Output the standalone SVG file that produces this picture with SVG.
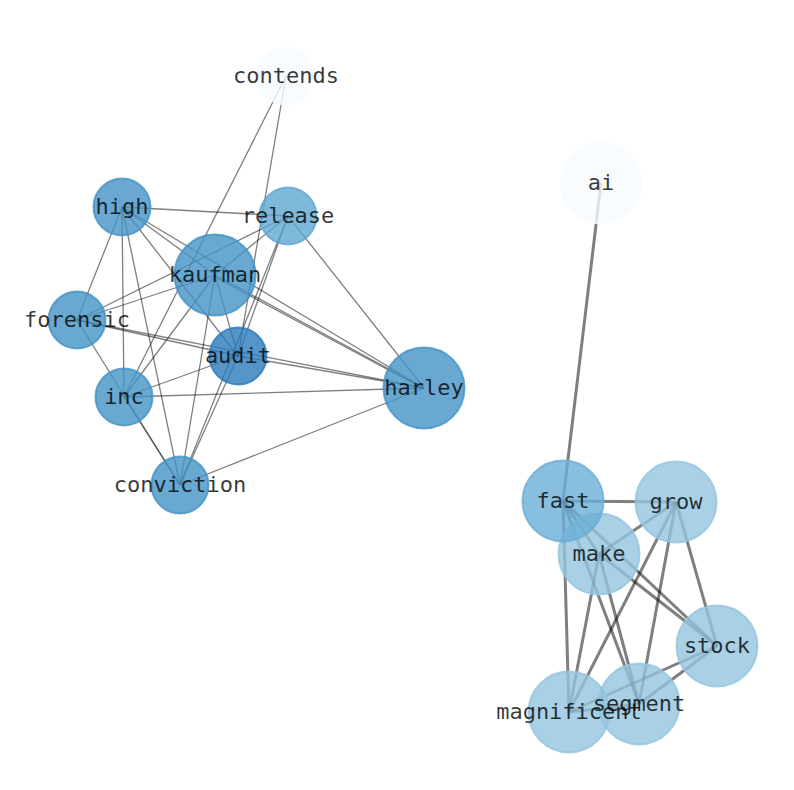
<svg xmlns="http://www.w3.org/2000/svg" width="794" height="790" viewBox="0 0 794 790">
<style>
.bg{fill:#ffffff}
.e1{stroke:#000;stroke-opacity:0.5;stroke-width:1.3;fill:none}
.e2{stroke:#000;stroke-opacity:0.5;stroke-width:3;fill:none}
.n circle{fill-opacity:0.8;stroke-opacity:0.8;stroke-width:2}
.lbl{font-family:"DejaVu Sans Mono","Liberation Mono",monospace;font-size:22px;fill:#000;fill-opacity:0.78;text-anchor:middle}
</style>
<rect class="bg" x="0" y="0" width="794" height="790"/>
<g id="edges">
<g class="e1">
<line x1="286" y1="76" x2="124" y2="397"/>
<line x1="286" y1="76" x2="238" y2="356"/>
<line x1="122" y1="207" x2="288" y2="216"/>
<line x1="122" y1="207" x2="77" y2="320"/>
<line x1="122" y1="207" x2="124" y2="397"/>
<line x1="122" y1="207" x2="180" y2="485"/>
<line x1="122" y1="207" x2="238" y2="356"/>
<line x1="122" y1="207" x2="424" y2="388"/>
<line x1="122" y1="207" x2="215" y2="275"/>
<line x1="288" y1="216" x2="77" y2="320"/>
<line x1="288" y1="216" x2="215" y2="275"/>
<line x1="288" y1="216" x2="238" y2="356"/>
<line x1="288" y1="216" x2="180" y2="485"/>
<line x1="288" y1="216" x2="424" y2="388"/>
<line x1="215" y1="275" x2="77" y2="320"/>
<line x1="215" y1="275" x2="124" y2="397"/>
<line x1="215" y1="275" x2="238" y2="356"/>
<line x1="215" y1="275" x2="180" y2="485"/>
<line x1="215" y1="275" x2="424" y2="388"/>
<line x1="215" y1="277" x2="424" y2="389"/>
<line x1="77" y1="320" x2="238" y2="356"/>
<line x1="77" y1="320" x2="424" y2="388"/>
<line x1="77" y1="320" x2="180" y2="485"/>
<line x1="238" y1="356" x2="124" y2="397"/>
<line x1="238" y1="356" x2="424" y2="388"/>
<line x1="238" y1="356" x2="180" y2="485"/>
<line x1="124" y1="397" x2="424" y2="388"/>
<line x1="124" y1="397" x2="180" y2="485"/>
<line x1="180" y1="485" x2="424" y2="388"/>
</g>
<g class="e2">
<line x1="601" y1="183" x2="563" y2="501"/>
<line x1="563" y1="501" x2="676" y2="502"/>
<line x1="563" y1="501" x2="599" y2="554"/>
<line x1="563" y1="501" x2="717" y2="646"/>
<line x1="563" y1="501" x2="639" y2="704"/>
<line x1="563" y1="501" x2="569" y2="712"/>
<line x1="599" y1="554" x2="676" y2="502"/>
<line x1="599" y1="554" x2="717" y2="646"/>
<line x1="599" y1="554" x2="639" y2="704"/>
<line x1="599" y1="554" x2="569" y2="712"/>
<line x1="676" y1="502" x2="569" y2="712"/>
<line x1="676" y1="502" x2="639" y2="704"/>
<line x1="676" y1="502" x2="717" y2="646"/>
<line x1="717" y1="646" x2="569" y2="712"/>
<line x1="717" y1="646" x2="639" y2="704"/>
<line x1="639" y1="704" x2="569" y2="712"/>
</g>
</g>
<g id="nodes" class="n">
<g id="node-contends"><circle cx="286" cy="76" r="28.5" fill="#f7fbff" stroke="#f7fbff"/></g>
<g id="node-high"><circle cx="122" cy="207" r="28.5" fill="#4292c6" stroke="#4292c6"/></g>
<g id="node-release"><circle cx="288" cy="216" r="28.5" fill="#5ea6d2" stroke="#5ea6d2"/></g>
<g id="node-kaufman"><circle cx="215" cy="275" r="40.5" fill="#4292c6" stroke="#4292c6"/></g>
<g id="node-forensic"><circle cx="77" cy="320" r="28.5" fill="#4292c6" stroke="#4292c6"/></g>
<g id="node-audit"><circle cx="238" cy="356" r="28.5" fill="#2b7bba" stroke="#2b7bba"/></g>
<g id="node-inc"><circle cx="124" cy="397" r="28.5" fill="#4292c6" stroke="#4292c6"/></g>
<g id="node-harley"><circle cx="424" cy="388" r="40.5" fill="#4292c6" stroke="#4292c6"/></g>
<g id="node-conviction"><circle cx="180" cy="485" r="28.5" fill="#4292c6" stroke="#4292c6"/></g>
<g id="node-ai"><circle cx="601" cy="183" r="40.5" fill="#f7fbff" stroke="#f7fbff"/></g>
<g id="node-make"><circle cx="599" cy="554" r="40.5" fill="#94c4df" stroke="#94c4df"/></g>
<g id="node-fast"><circle cx="563" cy="501" r="40.5" fill="#6aaed6" stroke="#6aaed6"/></g>
<g id="node-grow"><circle cx="676" cy="502" r="40.5" fill="#94c4df" stroke="#94c4df"/></g>
<g id="node-stock"><circle cx="717" cy="646" r="40.5" fill="#94c4df" stroke="#94c4df"/></g>
<g id="node-magnificent"><circle cx="569" cy="712" r="40.5" fill="#94c4df" stroke="#94c4df"/></g>
<g id="node-segment"><circle cx="639" cy="704" r="40.5" fill="#94c4df" stroke="#94c4df"/></g>
</g>
<g id="labels" class="lbl">
<text id="label-contends" x="286" y="83">contends</text>
<text id="label-high" x="122" y="214">high</text>
<text id="label-release" x="288" y="223">release</text>
<text id="label-kaufman" x="215" y="282">kaufman</text>
<text id="label-forensic" x="77" y="327">forensic</text>
<text id="label-audit" x="238" y="363">audit</text>
<text id="label-inc" x="124" y="404">inc</text>
<text id="label-harley" x="424" y="395">harley</text>
<text id="label-conviction" x="180" y="492">conviction</text>
<text id="label-ai" x="601" y="190">ai</text>
<text id="label-make" x="599" y="561">make</text>
<text id="label-fast" x="563" y="508">fast</text>
<text id="label-grow" x="676" y="509">grow</text>
<text id="label-stock" x="717" y="653">stock</text>
<text id="label-magnificent" x="569" y="719">magnificent</text>
<text id="label-segment" x="639" y="711">segment</text>
</g>
</svg>
